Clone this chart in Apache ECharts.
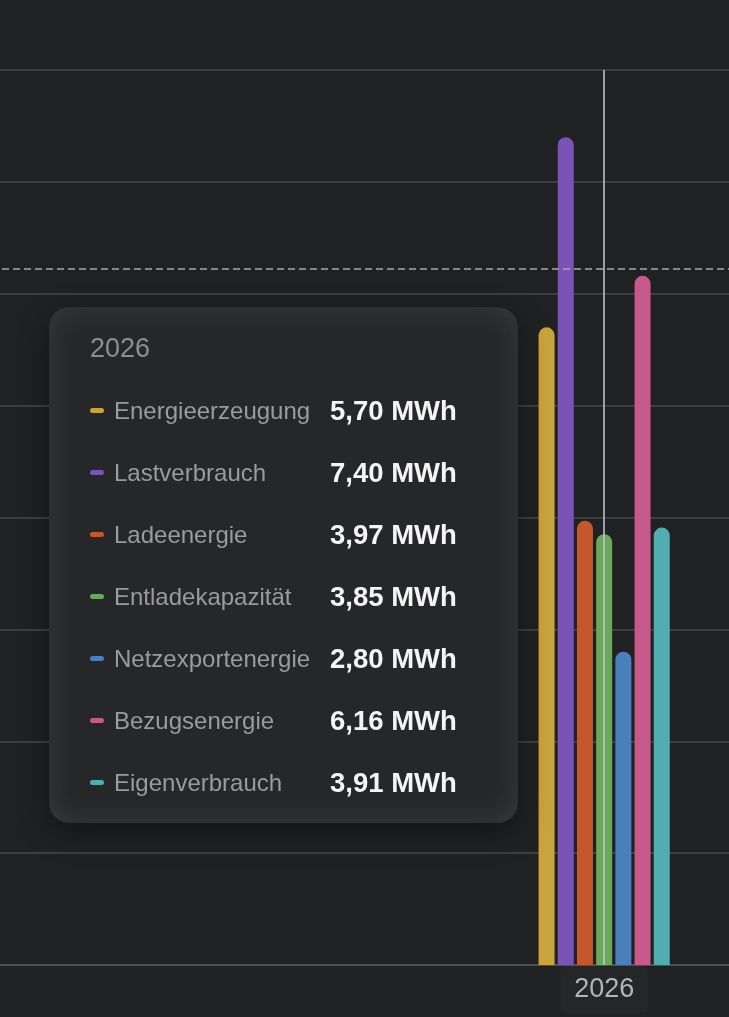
<!DOCTYPE html>
<html>
<head>
<meta charset="utf-8">
<script src="https://cdn.jsdelivr.net/npm/echarts@6/dist/echarts.min.js"></script>
<style>
  html, body { margin: 0; padding: 0; background: #202123; overflow: hidden; }
  #chart { position: absolute; left: -20px; top: 0; width: 749px; height: 1017px; }
</style>
</head>
<body>
<div id="chart"></div>
<script>
// Daten (die ersten beiden Kategorien sind leer, nur 2026 hat Werte)
var categories = ['', '', '2026'];
var seriesNames = ['Energieerzeugung', 'Lastverbrauch', 'Ladeenergie', 'Entladekapazität', 'Netzexportenergie', 'Bezugsenergie', 'Eigenverbrauch'];
var seriesValues = [5.70, 7.40, 3.97, 3.85, 2.80, 6.16, 3.91];
var seriesColors = ['#c9a33b', '#7a53b7', '#c4572b', '#6aa85b', '#4a7fbe', '#c75a8a', '#52adb1'];
var referenceLine = 6.22;
var yTicks = [0, 1, 2, 3, 4, 5, 6, 7, 8];

var myChart = echarts.init(document.getElementById('chart'));

var lastIndex = categories.length - 1;

var series = seriesNames.map(function(name, i) {
	var data = categories.map(function(c, k) {
		return k === lastIndex ? seriesValues[i] : '-';
	});
	var s = {
		name: name,
		type: 'bar',
		barWidth: 16,
		barGap: '20%',
		data: data,
		itemStyle: {
			color: seriesColors[i],
			borderRadius: [8, 8, 0, 0]
		},
		emphasis: { disabled: true }
	};
	if (i === 0) {
		s.markLine = {
			silent: true,
			symbol: 'none',
			label: { show: false },
			lineStyle: { color: '#a9a9ab', type: [7, 4], width: 1.5 },
			data: [{ yAxis: referenceLine }]
		};
	}
	return s;
});

// Tooltip-Inhalt
function tipFormatter(params) {
	var html = '<div style="padding:27px 0 0 40px;font-family:\'Liberation Sans\',Helvetica,Arial,sans-serif;">';
	html += '<div style="font-size:27px;line-height:27px;color:#8e8e90;height:27px;margin-bottom:17px;">' + params[0].name + '</div>';
	params.forEach(function(p) {
		var val = Number(p.value).toFixed(2).replace('.', ',') + ' MWh';
		html += '<div style="display:flex;align-items:center;height:62px;">';
		html += '<span style="display:inline-block;width:14px;height:5px;border-radius:3px;background:' + p.color + ';margin-right:10px;"></span>';
		html += '<span style="display:inline-block;width:216px;font-size:24px;color:#9b9b9d;white-space:nowrap;">' + p.seriesName + '</span>';
		html += '<span style="font-size:27.5px;font-weight:bold;color:#f4f4f5;white-space:nowrap;">' + val + '</span>';
		html += '</div>';
	});
	html += '</div>';
	return html;
}

var option = {
	backgroundColor: '#202123',
	animation: false,
	grid: { top: 70, bottom: 52, left: 0, right: 0, containLabel: false },
	tooltip: {
		trigger: 'axis',
		alwaysShowContent: true,
		transitionDuration: 0,
		position: [69, 307],
		padding: 0,
		backgroundColor: '#262729',
		borderColor: 'rgba(255,255,255,0.04)',
		borderWidth: 1,
		borderRadius: 20,
		extraCssText: 'width:469px;height:516px;box-sizing:border-box;box-shadow: inset 0 0 30px rgba(255,255,255,0.09), 0 10px 30px rgba(0,0,0,0.4);',
		axisPointer: {
			type: 'line',
			lineStyle: { color: '#c8c8cc', width: 1.5, type: 'solid' }
		},
		formatter: tipFormatter
	},
	xAxis: {
		type: 'category',
		data: categories,
		axisLine: { show: true, lineStyle: { color: '#565759', width: 1.5 } },
		axisTick: { show: false },
		axisLabel: { show: false },
		axisPointer: {
			show: true,
			type: 'line',
			lineStyle: { color: '#c8c8cc', width: 1.5 },
			label: {
				show: true,
				margin: 1,
				fontSize: 27,
				fontFamily: 'Liberation Sans',
				color: '#b4b4b6',
				backgroundColor: '#252628',
				borderRadius: 6,
				padding: [10, 14, 10, 14],
				shadowBlur: 0
			}
		}
	},
	yAxis: {
		type: 'value',
		min: yTicks[0],
		max: yTicks[yTicks.length - 1],
		interval: 1,
		axisLabel: { show: false },
		axisLine: { show: false },
		axisTick: { show: false },
		splitLine: { lineStyle: { color: '#48494b', width: 1.5 } }
	},
	series: series
};

myChart.setOption(option);

myChart.dispatchAction({ type: 'showTip', seriesIndex: 0, dataIndex: lastIndex });
</script>
</body>
</html>
